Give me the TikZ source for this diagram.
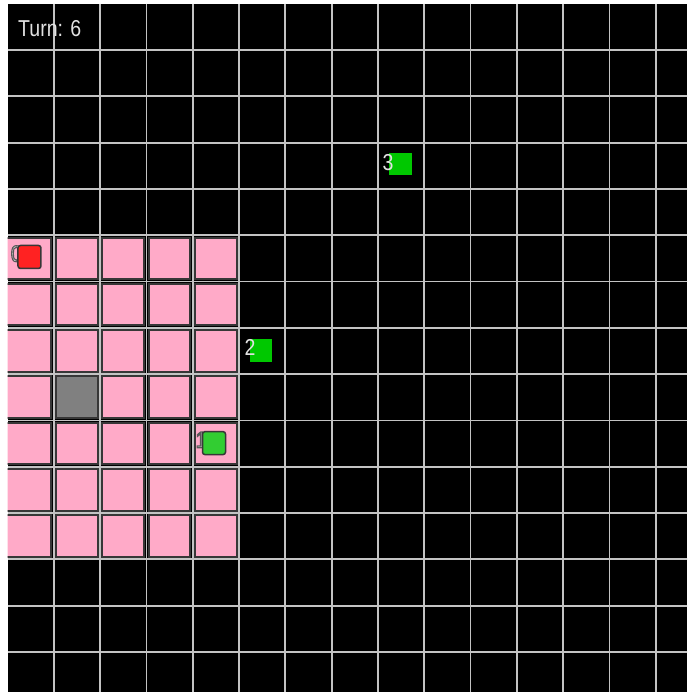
\documentclass[tikz,border=0pt]{standalone}
\usepackage{fontspec}
\newfontfamily\hudfont[FakeStretch=0.85]{Liberation Sans}

\definecolor{zonepink}{RGB}{255,170,200}
\definecolor{gridgray}{RGB}{195,195,195}
\definecolor{cellrim}{RGB}{55,55,55}
\definecolor{visitgray}{RGB}{128,128,128}
\definecolor{agentred}{RGB}{255,34,34}
\definecolor{agentgreen}{RGB}{0,200,0}
\definecolor{seengreen}{RGB}{50,205,50}
\definecolor{hudtext}{RGB}{225,225,225}

% digit with a grey rim (fill and stroke)
\newcommand{\rimtext}[1]{\special{pdf:literal q 2 Tr 1.1 w 0.35 0.35 0.35 RG}#1\special{pdf:literal Q}}

\tikzset{
  zone/.style={fill=zonepink, draw=cellrim, line width=2pt},
  gridline/.style={draw=gridgray, line width=1.8pt},
  robot/.style={minimum size=22.5pt, inner sep=0pt, fill=agentgreen},
  known/.style={robot, minimum size=23pt, fill=seengreen, draw=cellrim, line width=1.5pt, rounded corners=2.5pt},
  tag/.style={text=hudtext, font=\hudfont\fontsize{23}{23}\selectfont, inner sep=0pt},
}

\begin{document}
\begin{tikzpicture}[x=46.3pt, y=-46.3pt]
  % Canvas
  \useasboundingbox (-0.162,-0.080) rectangle (14.676,14.866);
  \fill[white] (-0.162,-0.080) rectangle (14.676,14.866);
  \fill[black] (0,0) rectangle (14.676,14.866);

  \begin{scope}
    \clip (0,0) rectangle (14.676,14.866);

    % Explored zone
    \foreach \i in {0,...,4}
      \foreach \j in {5,...,11} {
        \pgfmathsetmacro{\xl}{ifthenelse(\i==0,-0.2,\i+0.05)}
        \draw[zone] (\xl,\j+0.05) rectangle (\i+0.95,\j+0.95);
      }
    \draw[zone, fill=visitgray] (1.05,8.05) rectangle (1.95,8.95);

    % Grid
    \foreach \k in {1,...,14} {
      \draw[gridline] (\k,0) -- (\k,15);
      \draw[gridline] (0,\k) -- (15,\k);
    }
  \end{scope}

  % Turn counter
  \node[tag, anchor=base west] (turn) at (0.227,0.719) {Turn: 6};

  % Agents
  \node[tag] (l0) at (0.19,5.40) {\rimtext{0}};
  \node[known, fill=agentred] (a0) at (0.475,5.47) {};
  \node[tag] (l1) at (4.18,9.42) {\rimtext{1}};
  \node[known] (a1) at (4.46,9.49) {};
  \node[robot] (a2) at (5.475,7.49) {};
  \node[tag] (l2) at (5.24,7.43) {2};
  \node[robot] (a3) at (8.49,3.46) {};
  \node[tag] (l3) at (8.22,3.44) {3};
\end{tikzpicture}
\end{document}
